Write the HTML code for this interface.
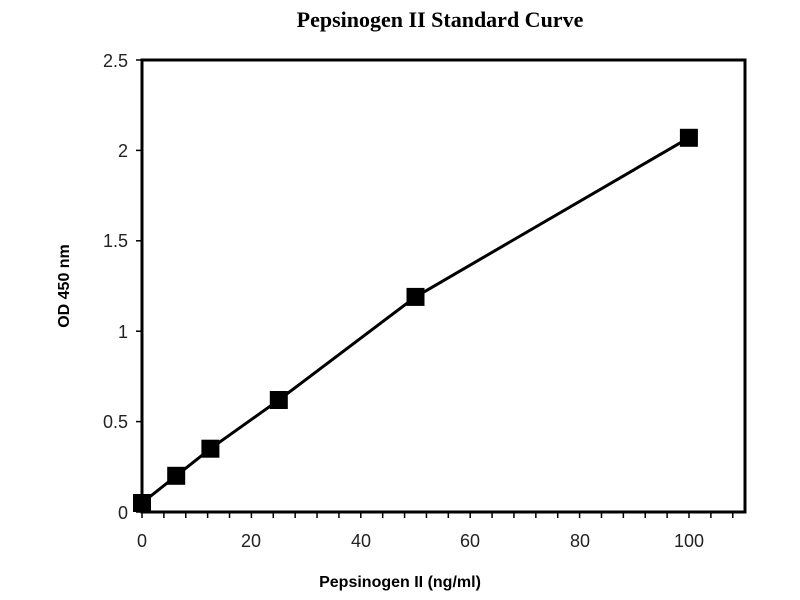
<!DOCTYPE html>
<html><head><meta charset="utf-8"><style>body{margin:0;background:#fff}</style></head><body>
<svg width="800" height="600" xmlns="http://www.w3.org/2000/svg" style="display:block">
<rect width="800" height="600" fill="#fff"/>
<text x="440" y="27" text-anchor="middle" font-family="Liberation Serif, serif" font-weight="bold" font-size="22" fill="#000">Pepsinogen II Standard Curve</text>
<rect x="142" y="60" width="603" height="452" fill="none" stroke="#000" stroke-width="3"/>
<g stroke="#000" stroke-width="1.5">
<line x1="136" y1="60" x2="142" y2="60"/><line x1="136" y1="150.4" x2="142" y2="150.4"/><line x1="136" y1="240.8" x2="142" y2="240.8"/><line x1="136" y1="331.2" x2="142" y2="331.2"/><line x1="136" y1="421.6" x2="142" y2="421.6"/><line x1="136" y1="512" x2="142" y2="512"/>
</g>
<path stroke="#000" stroke-width="1.5" fill="none" d="M142 512v6M163.88 512v6M185.76 512v6M207.64 512v6M229.52 512v6M251.4 512v6M273.28 512v6M295.16 512v6M317.04 512v6M338.92 512v6M360.8 512v6M382.68 512v6M404.56 512v6M426.44 512v6M448.32 512v6M470.2 512v6M492.08 512v6M513.96 512v6M535.84 512v6M557.72 512v6M579.6 512v6M601.48 512v6M623.36 512v6M645.24 512v6M667.12 512v6M689 512v6M710.88 512v6M732.76 512v6"/>
<g font-family="Liberation Sans, sans-serif" font-size="18" fill="#222" text-anchor="end">
<text x="128" y="67">2.5</text><text x="128" y="157">2</text><text x="128" y="247">1.5</text><text x="128" y="338">1</text><text x="128" y="428">0.5</text><text x="128" y="519">0</text>
</g>
<g font-family="Liberation Sans, sans-serif" font-size="18" fill="#222" text-anchor="middle">
<text x="142" y="547">0</text><text x="251" y="547">20</text><text x="361" y="547">40</text><text x="470" y="547">60</text><text x="580" y="547">80</text><text x="689" y="547">100</text>
</g>
<text x="400" y="587" text-anchor="middle" font-family="Liberation Sans, sans-serif" font-weight="bold" font-size="16" fill="#000">Pepsinogen II (ng/ml)</text>
<text transform="translate(69,286) rotate(-90)" text-anchor="middle" font-family="Liberation Sans, sans-serif" font-weight="bold" font-size="16" fill="#000">OD 450 nm</text>
<polyline fill="none" stroke="#000" stroke-width="3" points="142,503 176.2,475.8 210.4,448.7 278.8,400 415.5,296.9 688.9,137.8"/>
<g fill="#000">
<rect x="133" y="494" width="18" height="18"/>
<rect x="167.2" y="466.8" width="18" height="18"/>
<rect x="201.4" y="439.7" width="18" height="18"/>
<rect x="269.8" y="391" width="18" height="18"/>
<rect x="406.5" y="287.9" width="18" height="18"/>
<rect x="679.9" y="128.8" width="18" height="18"/>
</g>
</svg>
</body></html>
